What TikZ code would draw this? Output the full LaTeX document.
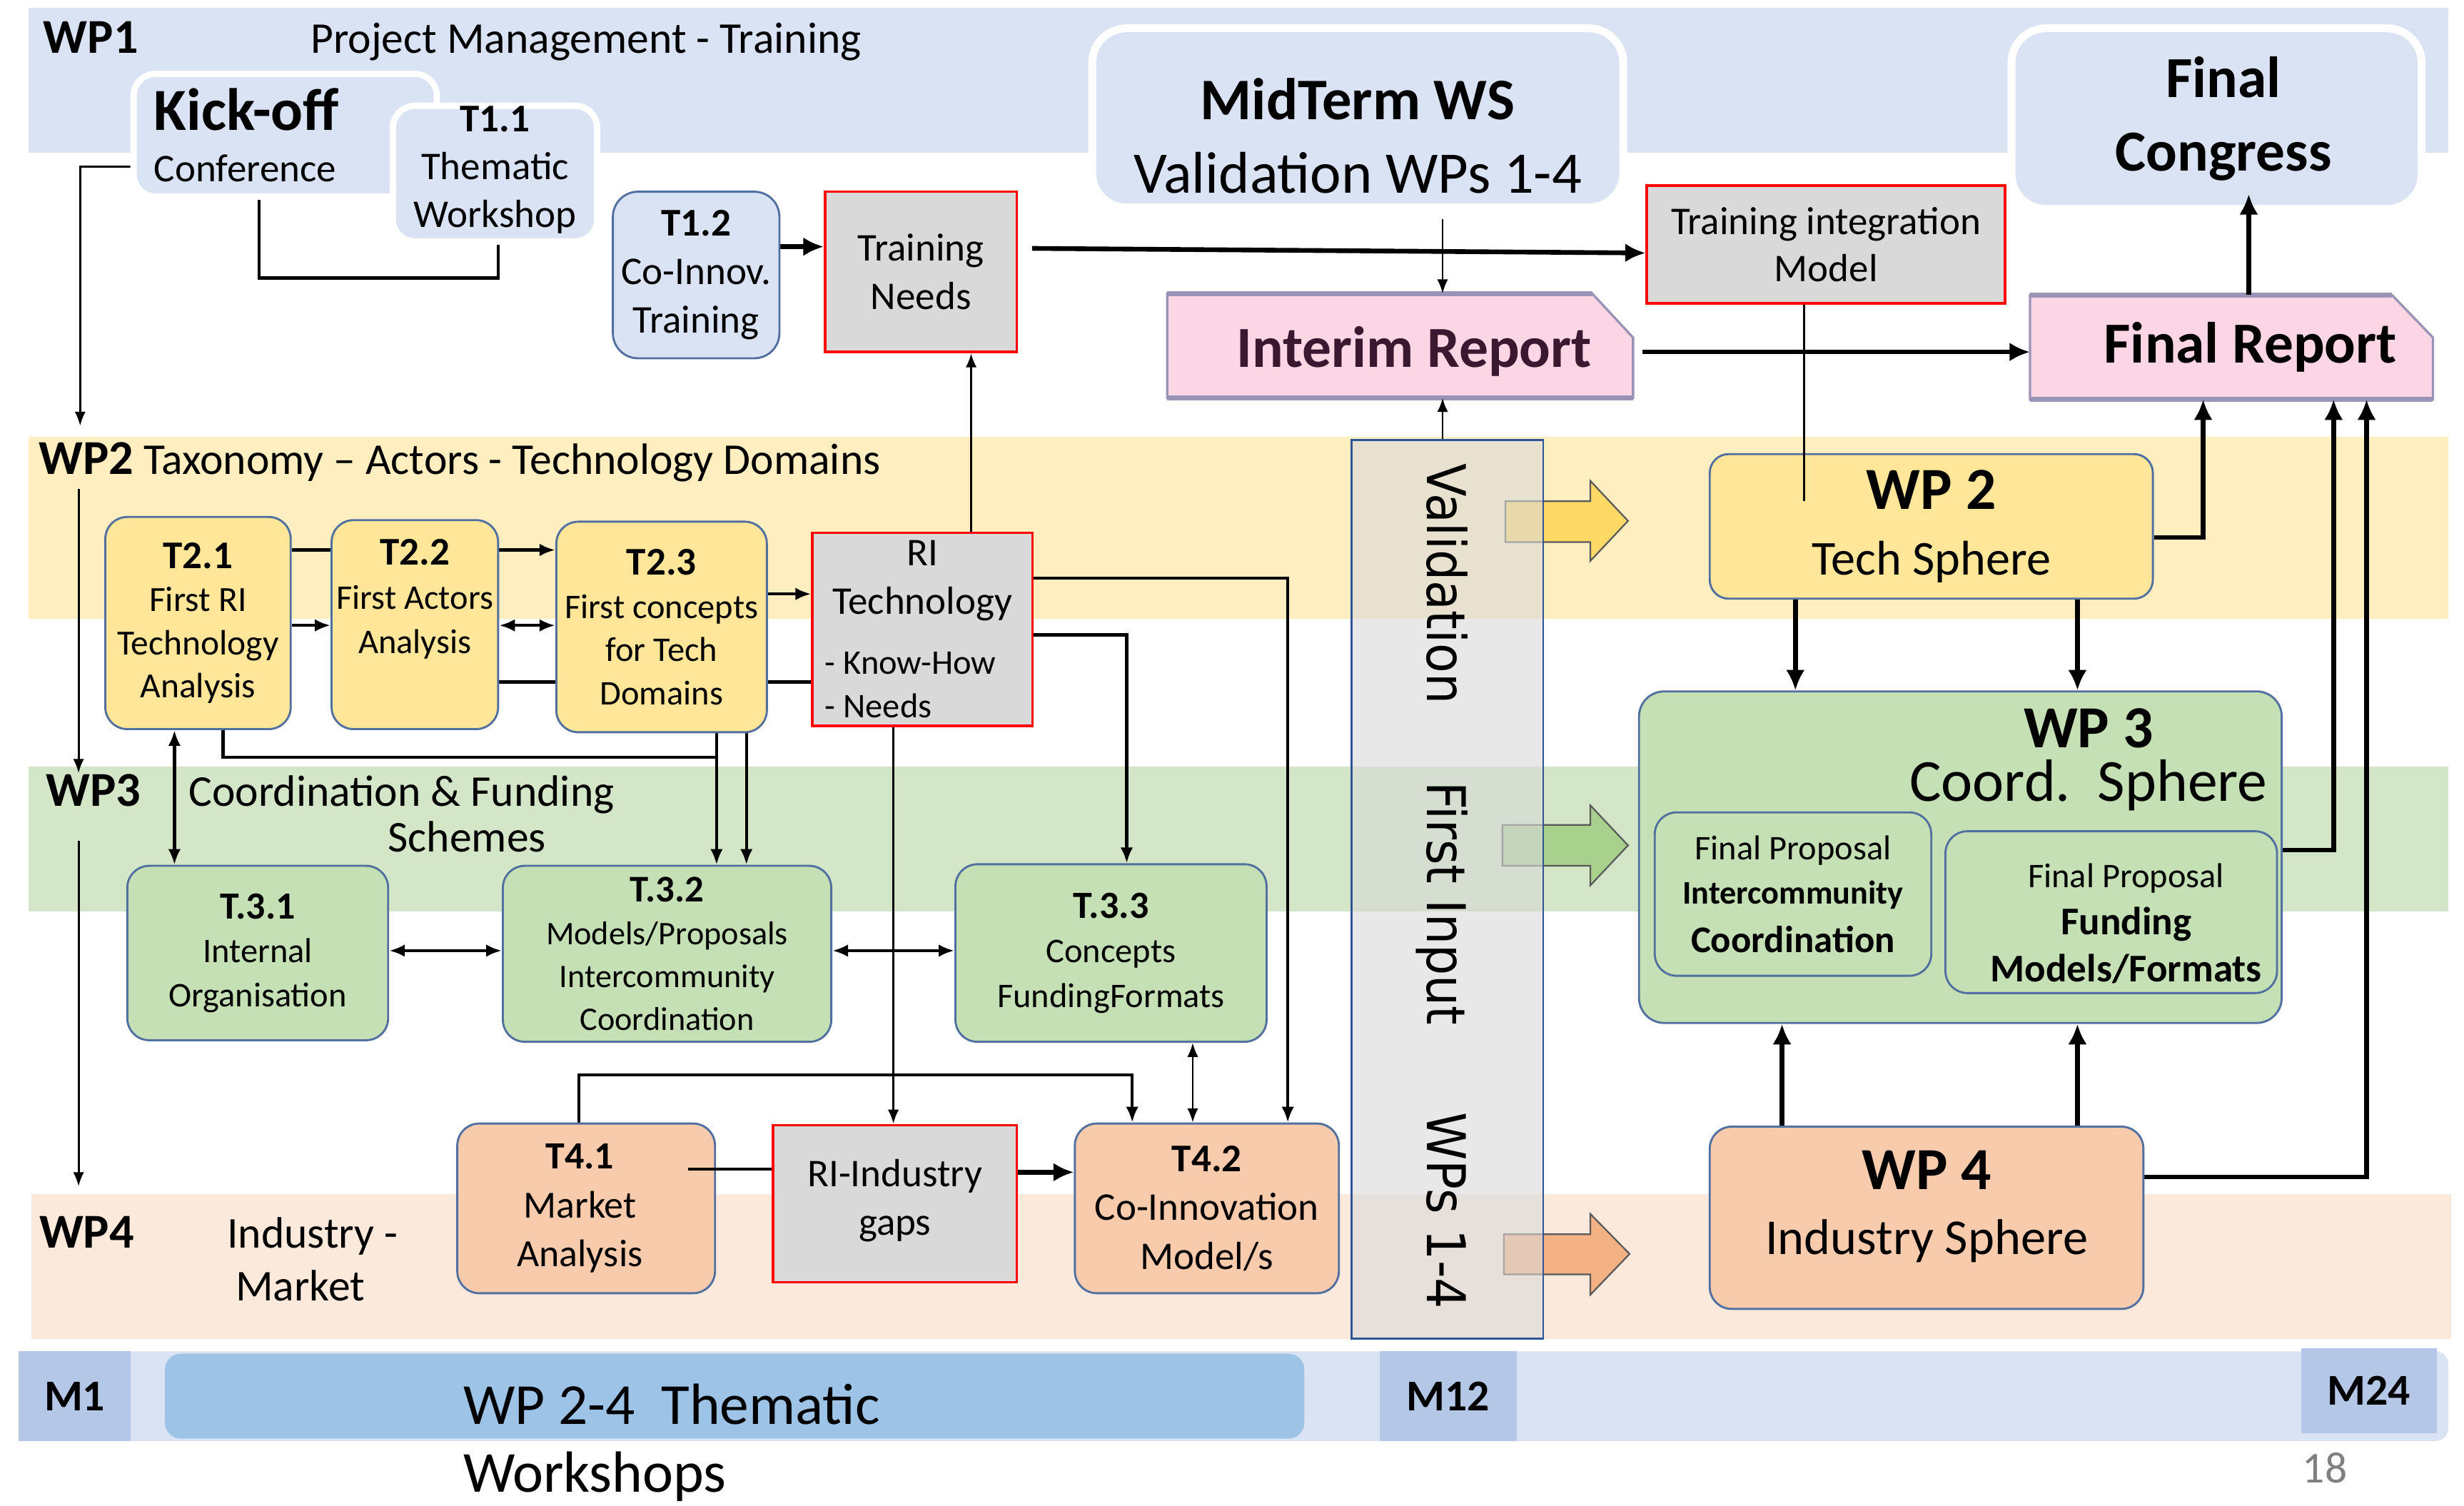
\documentclass[tikz,border=0pt]{standalone}
\usepackage{fontspec}
\setmainfont{Carlito}
\newfontfamily\valfont{DejaVu Sans}[FakeStretch=0.91]
\usetikzlibrary{arrows.meta}
\newcommand\fsz[2]{\fontsize{#1}{#2}\selectfont}
\definecolor{bluefill}{HTML}{DAE3F3}
\definecolor{yfill}{HTML}{FFE699}
\definecolor{gfill}{HTML}{C5E0B4}
\definecolor{ofill}{HTML}{F8CBAD}
\definecolor{grayfill}{HTML}{D9D9D9}
\definecolor{pinkfill}{HTML}{FDD6E5}
\definecolor{pinkborder}{HTML}{9A93B8}
\definecolor{bordc}{HTML}{52709F}
\definecolor{valborder}{HTML}{2F5597}
\definecolor{wpone}{HTML}{DAE3F3}
\definecolor{wptwo}{HTML}{FFEFC0}
\definecolor{wpthree}{HTML}{D3E6C7}
\definecolor{wpfour}{HTML}{FBE9DC}
\definecolor{mfill}{HTML}{B4C7E7}
\definecolor{thfill}{HTML}{9DC3E6}
\definecolor{interimtext}{HTML}{3A1830}
\definecolor{arrY}{HTML}{FFD966}
\definecolor{arrG}{HTML}{A9D18E}
\definecolor{arrO}{HTML}{F4B183}
\definecolor{pagegray}{HTML}{808080}
\pgfdeclarelayer{bands}
\pgfdeclarelayer{back}
\pgfsetlayers{bands,back,main}
\begin{document}
\begin{tikzpicture}[x=1pt,y=-1pt,
  every node/.style={inner sep=0pt, align=center},
  bluebox/.style={draw=white, line width=4pt, fill=bluefill, rounded corners=14pt},
  taskbox/.style={draw=bordc, line width=1.3pt, rounded corners=14pt},
  ybox/.style={taskbox, fill=yfill},
  gbox/.style={taskbox, fill=gfill},
  obox/.style={taskbox, fill=ofill},
  redbox/.style={draw=red, line width=1.6pt, fill=grayfill},
  pinkshape/.style={fill=pinkfill, draw=pinkborder, line width=1.5pt},
  blockarrow/.style={draw=black!65, line width=1pt},
  valtext/.style={font=\valfont\fontsize{34}{34}\selectfont, rotate=-90, anchor=base},
  conn/.style={draw=black, line width=1.3pt},
  connm/.style={draw=black, line width=2pt},
  connt/.style={draw=black, line width=3pt},
  tipS/.style={-{Latex[length=9pt,width=7pt]}},
  tipM/.style={-{Latex[length=10pt,width=8pt]}},
  tipT/.style={-{Latex[length=13pt,width=12pt]}},
  dtipS/.style={{Latex[length=9pt,width=7pt]}-{Latex[length=9pt,width=7pt]}},
  dtipM/.style={{Latex[length=10pt,width=8pt]}-{Latex[length=10pt,width=8pt]}}
]
\useasboundingbox (0,0) rectangle (1568,958);

% ---------------- bands ----------------
\begin{pgfonlayer}{bands}
\fill[white] (0,0) rectangle (1568,958);
\fill[wpone] (18,5) rectangle (1558,97);
\fill[wptwo] (18,278) rectangle (1558,394);
\fill[wpthree] (18,488) rectangle (1558,580);
\fill[wpfour] (20,760) rectangle (1560,852);
\fill[wpone, rounded corners=8pt] (12,860) rectangle (1558,917);
\end{pgfonlayer}

% ---------------- band labels ----------------
\node[anchor=base west, font={\bfseries\fsz{31}{31}}] (wp1lbl) at (27.5,34) {WP1};
\node[anchor=base west, font={\fsz{28}{28}}] (wp1title) at (197.5,34) {Project Management - Training};
\node[anchor=base west, font={\fsz{28}{28}}] (wp2lbl) at (24.5,302) {{\bfseries\fontsize{31}{31}\selectfont WP2} Taxonomy -- Actors - Technology Domains};
\node[anchor=base west, font={\bfseries\fsz{31}{31}}] (wp3lbl) at (29,513) {WP3};
\node[anchor=base west, font={\fsz{28}{28}}] (wp3title) at (119.8,513) {Coordination \& Funding};
\node[anchor=base west, font={\fsz{28}{28}}] (wp3title2) at (246.7,542.3) {Schemes};
\node[anchor=base west, font={\bfseries\fsz{31}{31}}] (wp4lbl) at (24.8,794.3) {WP4};
\node[anchor=base west, font={\fsz{28}{28}}] (wp4title) at (144.3,794.3) {Industry -};
\node[anchor=base west, font={\fsz{28}{28}}] (wp4title2) at (149.8,828) {Market};

% ---------------- WP1 row ----------------
\node[bluebox, minimum width=193pt, minimum height=78pt, text width=167pt, align=left, font={\fsz{25}{33}}] (kick) at (181.5,86) {{\bfseries\fontsize{38}{38}\selectfont Kick-off}\\Conference};
\node[bluebox, minimum width=130pt, minimum height=85pt, font={\fsz{25}{30.5}}] (t11) at (315,110.5) {\textbf{T1.1}\\Thematic\\Workshop\rule[-9pt]{0pt}{0pt}};
\node[taskbox, fill=bluefill, rounded corners=16pt, minimum width=106pt, minimum height=106pt, font={\fsz{25}{31}}] (t12) at (443,175) {\textbf{T1.2}\\Co-Innov.\\Training};
\node[redbox, minimum width=122pt, minimum height=102pt, font={\fsz{25}{31}}] (needs) at (586,173) {Training\\Needs};
\node[bluebox, line width=5pt, rounded corners=22pt, minimum width=338pt, minimum height=114pt, font={\fsz{37.5}{46.6}}] (midterm) at (864,75) {\rule{0pt}{49pt}\textbf{MidTerm WS}\\Validation WPs 1-4};
\node[bluebox, line width=5pt, rounded corners=22pt, minimum width=261pt, minimum height=115pt, font={\bfseries\fsz{37}{46.8}}] (congress) at (1410.5,75.5) {\hspace*{9pt}Final\\\hspace*{9pt}Congress};
\node[redbox, minimum width=228pt, minimum height=75pt, font={\fsz{25}{30}}] (tim) at (1162,155.5) {Training integration\\Model};

% reports
\node[minimum width=296pt, minimum height=66pt, font={\bfseries\fsz{37}{37}}, text=interimtext] (interim) at (891,220) {\hspace*{18pt}Interim Report\rule{0pt}{33pt}};
\node[minimum width=256pt, minimum height=66pt, font={\bfseries\fsz{37}{37}}] (final) at (1420,221) {\hspace*{24pt}Final Report};

% ---------------- WP2 row ----------------
\node[ybox, minimum width=118pt, minimum height=135pt, font={\fsz{22.5}{27.5}}] (t21) at (126,396.5) {{\bfseries\fontsize{25}{25}\selectfont T2.1}\\First RI\\Technology\\Analysis};
\node[ybox, minimum width=106pt, minimum height=133pt, font={\fsz{22}{28}}] (t22) at (264,397.5) {{\bfseries\fontsize{25}{25}\selectfont T2.2}\\First Actors\\Analysis\rule[-36pt]{0pt}{0pt}};
\node[ybox, minimum width=134pt, minimum height=134pt, font={\fsz{22}{27.5}}] (t23) at (421,399) {{\bfseries\fontsize{25}{25}\selectfont T2.3}\\First concepts\\for Tech\\Domains};
\node[redbox, minimum width=140pt, minimum height=123pt] (ritech) at (587,400.5) {\begin{minipage}{124pt}\centering\fsz{25}{31}RI\\Technology\par\vspace{10pt}\raggedright\fsz{22}{28}- Know-How\\- Needs\end{minipage}};

% ---------------- WP3 row ----------------
\node[gbox, minimum width=166pt, minimum height=111pt, font={\fsz{22}{28}}] (t31) at (164,606.5) {{\bfseries\fontsize{24.5}{24.5}\selectfont T.3.1}\\Internal\\Organisation};
\node[gbox, minimum width=209pt, minimum height=112pt, font={\fsz{21}{27.3}}] (t32) at (424.5,607) {{\bfseries\fontsize{24}{24}\selectfont T.3.2}\\Models/Proposals\\Intercommunity\\Coordination};
\node[gbox, minimum width=198pt, minimum height=113pt, font={\fsz{22}{28.5}}] (t33) at (707,606.5) {{\bfseries\fontsize{24.5}{24.5}\selectfont T.3.3}\\Concepts\\FundingFormats};

% ---------------- WP4 row ----------------
\node[obox, minimum width=164pt, minimum height=108pt, font={\fsz{24.5}{31}}] (t41) at (373,769) {\hspace*{-8pt}\textbf{T4.1}\\\hspace*{-8pt}Market\\\hspace*{-8pt}Analysis};
\node[redbox, minimum width=155pt, minimum height=100pt, font={\fsz{25}{31}}] (rigaps) at (569.5,766) {RI-Industry\\gaps\rule[-8pt]{0pt}{0pt}};
\node[obox, minimum width=168pt, minimum height=108pt, font={\fsz{25}{31}}] (t42) at (768,769) {\textbf{T4.2}\\Co-Innovation\\Model/s};

% ---------------- right side spheres ----------------
\node[ybox, rounded corners=12pt, minimum width=282pt, minimum height=92pt, font={\fsz{31}{42}}] (wp2) at (1229,335) {{\bfseries\fontsize{38}{38}\selectfont WP 2}\\Tech Sphere};
\node[gbox, rounded corners=16pt, minimum width=409pt, minimum height=211pt] (wp3) at (1247.5,545.5) {};
\node[anchor=base, font={\bfseries\fsz{38}{38}}] (wp3t) at (1329,476) {WP 3};
\node[anchor=base, font={\fsz{38}{38}}] (wp3t2) at (1329,510) {Coord.~~Sphere};
\node[gbox, rounded corners=14pt, minimum width=176pt, minimum height=104pt, font={\fsz{22}{28}}] (wp3a) at (1141,569) {Final Proposal\\{\bfseries\fontsize{21}{21}\selectfont Intercommunity}\\[3pt]{\bfseries\fontsize{24}{24}\selectfont Coordination}};
\node[gbox, rounded corners=14pt, minimum width=211pt, minimum height=103pt, font={\fsz{22}{30}}] (wp3b) at (1343.5,580.5) {\hspace*{19pt}Final Proposal\rule{0pt}{30pt}\\\hspace*{19pt}{\bfseries\fontsize{25}{25}\selectfont Funding}\\\hspace*{19pt}{\bfseries\fontsize{25}{25}\selectfont Models/Formats}};
\node[obox, rounded corners=14pt, minimum width=276pt, minimum height=116pt, font={\fsz{32}{41}}] (wp4) at (1226,775) {{\bfseries\fontsize{38}{38}\selectfont WP 4}\\Industry Sphere\rule[-19.5pt]{0pt}{0pt}};

% ---------------- validation column ----------------
\node[draw=valborder, line width=1.3pt, fill=grayfill, fill opacity=0.6, minimum width=122pt, minimum height=572pt] (val) at (921,566) {};
\node[valtext] (v1) at (908,371.5) {Validation};
\node[valtext] (v2) at (908,575) {First Input};
\node[valtext] (v3) at (908,770.5) {WPs 1-4};

% ---------------- timeline ----------------
\node[fill=mfill, minimum width=71pt, minimum height=57pt, font={\bfseries\fsz{28}{28}}] (m1) at (47.5,888.5) {M1};
\node[fill=thfill, rounded corners=10pt, minimum width=725pt, minimum height=54pt] (thbar) at (467.5,888.5) {};
\node[anchor=base west, font={\fsz{37}{37}}] (thtext) at (294.6,906.3) {WP 2-4~~Thematic};
\node[anchor=base west, font={\fsz{37}{37}}] (thtext2) at (294.6,949.5) {Workshops};
\node[fill=mfill, minimum width=87pt, minimum height=57pt, font={\bfseries\fsz{28}{28}}] (m12) at (921.5,888.5) {M12};
\node[fill=mfill, minimum width=86pt, minimum height=54pt, font={\bfseries\fsz{28}{28}}] (m24) at (1507.5,885) {M24};
\node[text=pagegray, font={\fsz{28}{28}}] (pg) at (1479.5,934) {18};

% ---------------- coordinates for free ends ----------------
\coordinate (kickend) at (51,271);
\coordinate (a2s) at (50,311);
\coordinate (a2e) at (50,492);
\coordinate (a3s) at (50,535);
\coordinate (a3e) at (50,755);
\coordinate (timend) at (1148,319);
\coordinate (t41out) at (438,744);

% ---------------- back layer: shapes + connectors ----------------
\begin{pgfonlayer}{back}
% report shapes
\filldraw[pinkshape] (interim.north west) -- ([xshift=-26pt]interim.north east) -- ([yshift=-28pt]interim.north east) -- (interim.south east) -- (interim.south west) -- cycle;
\draw[pinkborder, line width=3pt] (interim.north west) -- ([xshift=-26pt]interim.north east);
\draw[pinkborder, line width=3pt] (interim.south west) -- (interim.south east);
\filldraw[pinkshape] (final.north west) -- ([xshift=-26pt]final.north east) -- ([yshift=-27pt]final.north east) -- (final.south east) -- (final.south west) -- cycle;
\draw[pinkborder, line width=3pt] (final.north west) -- ([xshift=-26pt]final.north east);
\draw[pinkborder, line width=3pt] (final.south west) -- (final.south east);
% block arrows
\filldraw[blockarrow, fill=arrY] (958,319) -- (1012,319) -- (1012,306) -- (1036,331.5) -- (1012,357) -- (1012,345) -- (958,345) -- cycle;
\filldraw[blockarrow, fill=arrG] (956,525) -- (1012,525) -- (1012,512.5) -- (1036,538) -- (1012,563.5) -- (1012,551) -- (956,551) -- cycle;
\filldraw[blockarrow, fill=arrO] (957,785.5) -- (1012,785.5) -- (1012,772.5) -- (1037,798) -- (1012,824) -- (1012,811) -- (957,811) -- cycle;

% WP1 connectors
\draw[conn, tipS] (kick.west |- 0,106) -| (kickend);
\draw[connm] (165,0 |- kick.south) |- (317,177) -- (317,0 |- t11.south);
\draw[connt, tipT] (t12.east |- 0,157) -- (needs.west |- 0,157);
\draw[connt, tipT, shorten <=9pt] (needs.east |- 0,158) -- (tim.west |- 0,161);
\draw[conn, tipS, shorten <=5pt] (918,0 |- midterm.south) -- (918,0 |- interim.north);
\draw[conn, tipS] (918,0 |- val.north) -- (918,0 |- interim.south);
\draw[connt, tipT, shorten <=6pt] (interim.east |- 0,224) -- (final.west |- 0,224);

% right side
\draw[connt, tipT] (wp2.east |- 0,342) -| (1402,0 |- final.south);
\draw[connt, tipT] (1142.5,0 |- wp2.south) -- (1142.5,0 |- wp3.north);
\draw[connt, tipT] (1322,0 |- wp2.south) -- (1322,0 |- wp3.north);
\draw[connt, tipT] (wp3.east |- 0,541) -| (1485,0 |- final.south);
\draw[connt, tipT] (wp4.east |- 0,749) -| (1506,0 |- final.south);
\draw[connt, tipT] (1134,0 |- wp4.north) -- (1134,0 |- wp3.south);
\draw[connt, tipT] (1322,0 |- wp4.north) -- (1322,0 |- wp3.south);

% left vertical arrows
\draw[conn, tipS] (a2s) -- (a2e);
\draw[conn, tipS] (a3s) -- (a3e);

% WP2 row
\draw[connm, tipM] (t21.east |- 0,350) -- (t23.west |- 0,350);
\draw[connm, tipM] (t21.east |- 0,398) -- (t22.west |- 0,398);
\draw[connm, dtipM] (t22.east |- 0,398) -- (t23.west |- 0,398);
\draw[connm, tipM] (t23.east |- 0,378) -- (ritech.west |- 0,378);
\draw[connm] (t22.east |- 0,434) -- (ritech.west |- 0,434);
\draw[connm, tipM] (142,0 |- t21.south) |- (456,482) -- (456,0 |- t32.north);
\draw[connm] (456,0 |- t23.south) -- (456,482);
\draw[connm, tipM] (475,0 |- t23.south) -- (475,0 |- t32.north);
\draw[connm, dtipM] (111,0 |- t21.south) -- (111,0 |- t31.north);
\draw[conn, tipS] (618,0 |- ritech.north) -- (618,0 |- needs.south);
\draw[conn, tipS] (568.5,0 |- ritech.south) -- (568.5,0 |- rigaps.north);
\draw[connm, tipM] (ritech.east |- 0,368) -| (819.5,0 |- t42.north);
\draw[connm, tipM] (ritech.east |- 0,404) -| (717,0 |- t33.north);

% WP3 / WP4 rows
\draw[connm, dtipM] (t31.east |- 0,605) -- (t32.west |- 0,605);
\draw[connm, dtipM] (t32.east |- 0,605) -- (t33.west |- 0,605);
\draw[conn, dtipS] (759,0 |- t33.south) -- (759,0 |- t42.north);
\draw[connm, tipM] (368.5,0 |- t41.north) |- (720.5,684) -- (720.5,0 |- t42.north);
\draw[connt, tipT] (rigaps.east |- 0,746) -- (t42.west |- 0,746);
\end{pgfonlayer}

% connectors drawn over nodes
\draw[connt, tipT, shorten >=-12pt] (1431,0 |- final.north) -- (1431,0 |- congress.south);
\draw[conn] (1148,0 |- tim.south) -- (timend);
\draw[connm] (t41out) -- (rigaps.west |- 0,744);
\end{tikzpicture}
\end{document}
